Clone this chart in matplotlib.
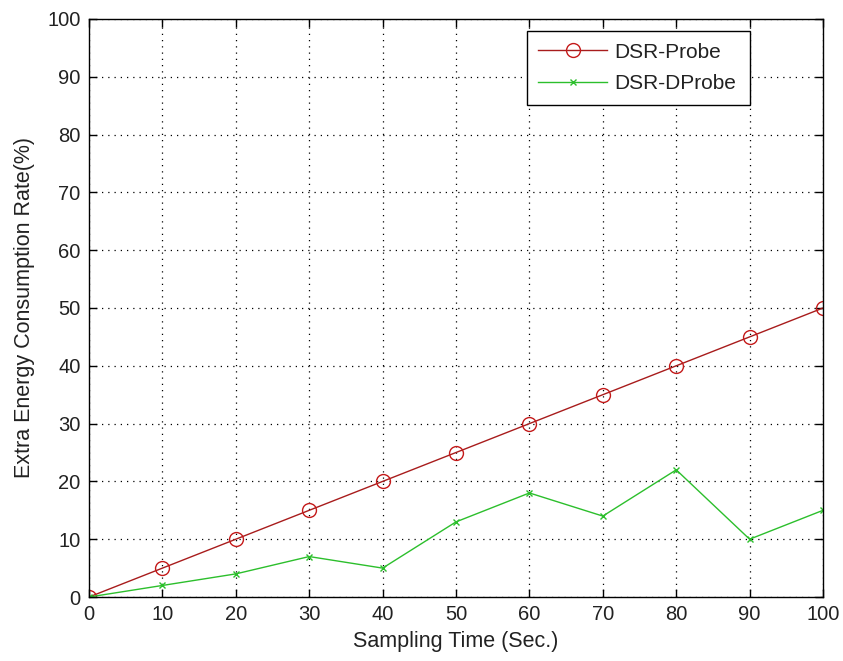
import matplotlib.pyplot as plt
import numpy as np

# sampling times (s) and extra energy consumption (%) per protocol
sampling_time = [0, 10, 20, 30, 40, 50, 60, 70, 80, 90, 100]
dsr_probe = [0, 5, 10, 15, 20, 25, 30, 35, 40, 45, 50]
dsr_dprobe = [0, 2, 4, 7, 5, 13, 18, 14, 22, 10, 15]

plt.rcParams['font.family'] = ['Liberation Sans', 'DejaVu Sans']

fig = plt.figure(figsize=(8.43, 6.61), dpi=100)
ax = fig.add_axes([0.1056, 0.0968, 0.8707, 0.8745])

ax.plot(sampling_time, dsr_probe, color='#a81c1c', lw=1.0,
        marker='o', markersize=10, markerfacecolor='none',
        markeredgecolor='#c41a1a', markeredgewidth=1.0, label='DSR-Probe')
ax.plot(sampling_time, dsr_dprobe, color='#2cbf2c', lw=1.0,
        marker='x', markersize=5, markeredgewidth=1.0, label='DSR-DProbe')

ax.set_xlim(0, 100)
ax.set_ylim(0, 100)
ax.set_xticks(np.arange(0, 101, 10))
ax.set_yticks(np.arange(0, 101, 10))
ax.tick_params(direction='in', top=True, right=True, labelsize=14.5,
               length=6, width=1.0, pad=6, labelcolor='#222222')
ax.grid(True, linestyle=(0, (1, 4)), color='black', linewidth=0.9)
for s in ax.spines.values():
    s.set_linewidth(1.0)

ax.set_xlabel('Sampling Time (Sec.)', fontsize=15.5, labelpad=5,
              color='#222222')
ax.set_ylabel('Extra Energy Consumption Rate(%)', fontsize=15.5, labelpad=9,
              color='#222222')

# legend box stretched to a fixed width in the upper right
leg = ax.legend(loc='upper left', bbox_to_anchor=(0.5967, 0.779, 0.3038, 0.2),
                mode='expand', borderaxespad=0,
                fontsize=15, fancybox=False, framealpha=1,
                edgecolor='black', handlelength=3.3, handletextpad=0.35,
                borderpad=0.55, labelspacing=0.6)
leg.get_frame().set_linewidth(1.0)
for t in leg.get_texts():
    t.set_color('#222222')

fig.savefig('out.png', dpi=100)
